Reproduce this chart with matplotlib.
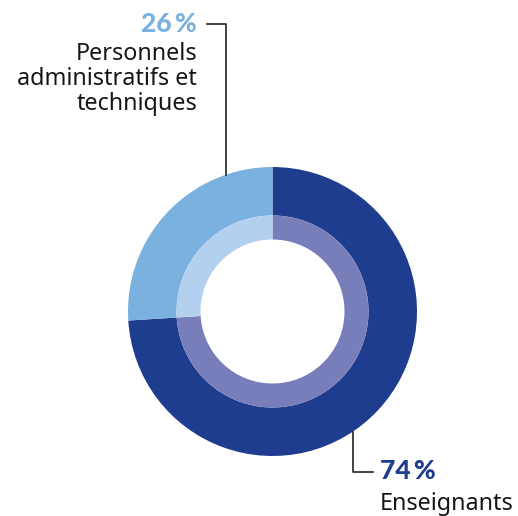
import matplotlib.pyplot as plt

# data
categories = ["Enseignants", "Personnels\nadministratifs et\ntechniques"]
shares = [74, 26]
pct_labels = ["74\u2009%", "26\u2009%"]
outer_colors = ["#1f3d8f", "#7ab1df"]
inner_colors = ["#777eba", "#b3d1ef"]

W, H = 518, 516
fig = plt.figure(figsize=(W / 100, H / 100), dpi=100)
ax = fig.add_axes([0, 0, 1, 1])
ax.set_xlim(0, W)
ax.set_ylim(0, H)
ax.set_aspect("equal")
ax.axis("off")

cx, cy = 272.5, H - 311.5
r_out, r_mid, r_in = 144.5, 96, 72

ax.pie(shares, colors=outer_colors, startangle=90, counterclock=False,
       radius=r_out, center=(cx, cy),
       wedgeprops=dict(width=r_out - r_mid, linewidth=0))
ax.pie(shares, colors=inner_colors, startangle=90, counterclock=False,
       radius=r_mid, center=(cx, cy),
       wedgeprops=dict(width=r_mid - r_in, linewidth=0))
ax.set_xlim(0, W)
ax.set_ylim(0, H)

pct_font = ["Lato", "DejaVu Sans"]
font = ["Noto Sans", "DejaVu Sans"]
txt_size = 16.8

# leader lines (annotation only)
ax.plot([207, 226, 226], [H - 24, H - 24, H - 175], color="#222222", lw=1.2)
ax.plot([352.7, 352.7, 373], [H - 432, H - 471.5, H - 471.5], color="#222222", lw=1.2)

# top-left label
ax.text(197, H - 24, pct_labels[1], ha="right", va="center",
        fontsize=19, fontweight="black", color=outer_colors[1], family=pct_font)
for i, line in enumerate(categories[1].split("\n")):
    ax.text(197, H - 60 - 25 * i, line, ha="right", va="baseline",
            fontsize=txt_size, color="#161616", family=font)

# bottom-right label
ax.text(380, H - 471, pct_labels[0], ha="left", va="center",
        fontsize=19, fontweight="black", color=outer_colors[0], family=pct_font)
ax.text(380, H - 510.5, categories[0], ha="left", va="baseline",
        fontsize=txt_size, color="#161616", family=font)

fig.savefig("out.png", dpi=100)
plt.close(fig)
